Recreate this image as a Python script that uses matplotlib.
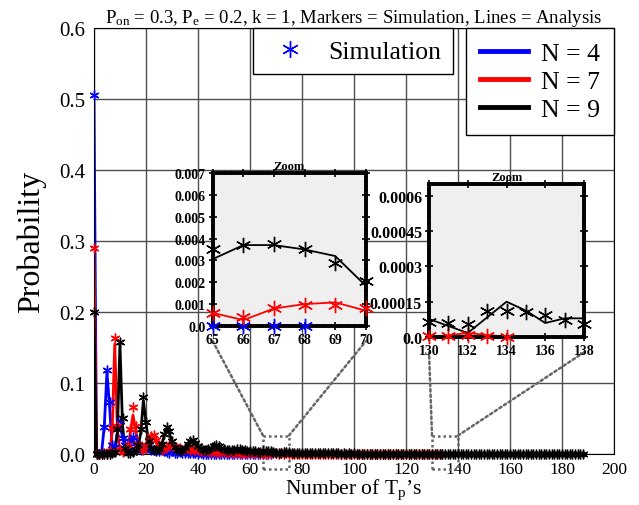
import matplotlib
matplotlib.use("Agg")
import numpy as np
import matplotlib.pyplot as plt
from matplotlib.lines import Line2D
from matplotlib.patches import Rectangle, ConnectionPatch
from matplotlib.ticker import AutoMinorLocator

plt.rcParams['font.family'] = ['Liberation Serif', 'DejaVu Serif']
plt.rcParams['mathtext.fontset'] = 'custom'
plt.rcParams['mathtext.rm'] = 'Liberation Serif'
plt.rcParams['mathtext.it'] = 'Liberation Serif:italic'

# analysis (lines) and simulation (markers), index = number of Tp's
ana_n4 = [0.505, 0.0, 0.0, 0.004, 0.040, 0.115, 0.068, 0.010, 0.007, 0.030,
          0.040, 0.025, 0.010, 0.008, 0.015, 0.019, 0.014, 0.008, 0.006, 0.007,
          0.009, 0.009, 0.007, 0.005, 0.004, 0.005, 0.005, 0.004, 0.003, 0.003,
          0.003, 0.003, 0.002, 0.002, 0.002, 0.0015, 0.0015, 0.0012, 0.001, 0.001,
          0.001, 0.0008, 0.0007, 0.0006, 0.0005, 0.0005, 0.0004, 0.0003, 0.0003, 0.0002,
          0.0002, 0.0002, 0.0001, 0.0001, 0.0001, 0.0001, 0.0001, 0.0, 0.0, 0.0,
          0.0, 0.0, 0.0, 0.0, 0.0, 0.0, 0.0, 0.0, 0.0]
sim_n4 = [0.505, 0.0, 0.0, 0.003, 0.038, 0.118, 0.073, 0.012, 0.010, 0.036,
          0.047, 0.022, 0.012, 0.010, 0.018, 0.024, 0.015, 0.008, 0.005, 0.008,
          0.010, 0.008, 0.006, 0.006, 0.004, 0.004, 0.006, 0.004, 0.003, 0.002,
          0.004, 0.002, 0.002, 0.003, 0.001, 0.002, 0.001, 0.001, 0.0015, 0.001,
          0.0005, 0.001, 0.0005, 0.0005, 0.0005, 0.0003, 0.0005, 0.0003, 0.0002, 0.0002,
          0.0001, 0.0002, 0.0001, 0.0001, 0.0001, 0.0, 0.0001, 0.0, 0.0, 0.0,
          0.0, 0.0, 0.0, 0.0, 0.0, 0.0, 0.0, 0.0, 0.0]

ana_n7 = [0.288, 0.0, 0.0, 0.0, 0.0, 0.0, 0.002, 0.030, 0.155, 0.035,
          0.004, 0.002, 0.003, 0.010, 0.030, 0.055, 0.035, 0.012, 0.006, 0.006,
          0.010, 0.017, 0.022, 0.024, 0.018, 0.011, 0.007, 0.007, 0.009, 0.011,
          0.012, 0.011, 0.009, 0.007, 0.006, 0.006, 0.007, 0.007, 0.0068, 0.006,
          0.005, 0.0045, 0.0042, 0.0042, 0.0042, 0.004, 0.0036, 0.0032, 0.003, 0.0028,
          0.0027, 0.0026, 0.0024, 0.0022, 0.002, 0.0018, 0.0017, 0.0016, 0.0015, 0.0013,
          0.0012, 0.0011, 0.0009, 0.0008, 0.0007, 0.0006, 0.00027, 0.0008, 0.0010, 0.00108,
          0.0007, 0.0006, 0.0006, 0.0007, 0.0007, 0.0006, 0.0005, 0.0005, 0.0005, 0.0005,
          0.0004, 0.0004, 0.0004, 0.0004, 0.0003, 0.0003, 0.0003, 0.0003, 0.0003, 0.00025,
          0.00025, 0.0002, 0.0002, 0.0002, 0.0002, 0.00018, 0.00016, 0.00015, 0.00015, 0.00014,
          0.00012, 0.00011, 0.0001, 0.0001, 0.00009, 0.00009, 0.00008, 0.00007, 0.00007, 0.00006,
          0.00006, 0.00005, 0.00005, 0.00004, 0.00004, 0.00004, 0.00003, 0.00003, 0.00003, 0.00002,
          0.00002, 0.00002, 0.00002, 0.00002, 0.00001, 0.00001, 0.00001, 0.00001, 0.00001, 0.00001,
          0.0, 0.000007, 0.000017, 0.000008, 0.000002]
sim_n7 = [0.290, 0.0, 0.0, 0.0, 0.001, 0.0, 0.004, 0.036, 0.164, 0.040,
          0.006, 0.003, 0.005, 0.012, 0.035, 0.066, 0.040, 0.014, 0.008, 0.005,
          0.012, 0.020, 0.025, 0.027, 0.020, 0.013, 0.006, 0.008, 0.010, 0.012,
          0.013, 0.010, 0.008, 0.008, 0.005, 0.007, 0.008, 0.006, 0.007, 0.005,
          0.0055, 0.004, 0.0045, 0.004, 0.0045, 0.0035, 0.004, 0.003, 0.0032, 0.0025,
          0.003, 0.0024, 0.0025, 0.002, 0.0022, 0.0017, 0.0019, 0.0015, 0.0016, 0.0012,
          0.0013, 0.001, 0.001, 0.0008, 0.0008, 0.0006, 0.00043, 0.0008, 0.00098, 0.00098,
          0.00082, 0.0006, 0.0007, 0.0006, 0.0008, 0.0005, 0.0006, 0.0004, 0.0005, 0.0004,
          0.0005, 0.0003, 0.0004, 0.0003, 0.0004, 0.0002, 0.0003, 0.0003, 0.0002, 0.0003,
          0.0002, 0.0002, 0.00025, 0.00015, 0.0002, 0.00015, 0.00018, 0.00012, 0.00015, 0.0001,
          0.00012, 0.0001, 0.0001, 0.00008, 0.0001, 0.00007, 0.00008, 0.00006, 0.00007, 0.00005,
          0.00006, 0.00004, 0.00005, 0.00004, 0.00003, 0.00004, 0.00002, 0.00003, 0.00002, 0.00002,
          0.00002, 0.00001, 0.00002, 0.00001, 0.00001, 0.00001, 0.000005, 0.00001, 0.000005, 0.000005,
          0.000005, 0.000005, 0.000008, 0.000003, 0.000002]

ana_n9 = [0.198, 0.0, 0.0, 0.0, 0.0, 0.0, 0.0, 0.0, 0.002, 0.030,
          0.155, 0.040, 0.005, 0.001, 0.001, 0.002, 0.004, 0.010, 0.030, 0.075,
          0.045, 0.015, 0.006, 0.004, 0.004, 0.006, 0.012, 0.025, 0.036, 0.030,
          0.016, 0.008, 0.005, 0.004, 0.005, 0.008, 0.013, 0.018, 0.019, 0.015,
          0.010, 0.007, 0.005, 0.005, 0.006, 0.008, 0.010, 0.011, 0.010, 0.008,
          0.006, 0.005, 0.0045, 0.0048, 0.0055, 0.006, 0.0063, 0.006, 0.0053, 0.0046,
          0.004, 0.0036, 0.0034, 0.0033, 0.0032, 0.00306, 0.0037, 0.0037, 0.0035, 0.0032,
          0.00184, 0.0017, 0.0020, 0.0023, 0.0024, 0.0023, 0.0020, 0.0017, 0.0015, 0.0014,
          0.0014, 0.0015, 0.0016, 0.0016, 0.0015, 0.0013, 0.0011, 0.0010, 0.0009, 0.0009,
          0.0010, 0.0010, 0.0010, 0.0009, 0.0008, 0.0007, 0.0006, 0.0006, 0.0006, 0.0006,
          0.0006, 0.0006, 0.0005, 0.0005, 0.0004, 0.0004, 0.0004, 0.0004, 0.0004, 0.0004,
          0.0003, 0.0003, 0.0003, 0.00025, 0.00025, 0.00025, 0.00025, 0.00022, 0.0002, 0.00018,
          0.00016, 0.00015, 0.00015, 0.00015, 0.00014, 0.00012, 0.0001, 0.00009, 0.00009, 0.00008,
          0.0000765, 0.000047, 0.000017, 0.0000836, 0.00015, 0.000112, 0.0000595, 0.0000793, 0.0000793, 0.00007,
          0.00007, 0.00006, 0.00006, 0.00005, 0.00005, 0.00005, 0.00004, 0.00004, 0.00004, 0.00004,
          0.00003, 0.00003, 0.00003, 0.00003, 0.00003, 0.00002, 0.00002, 0.00002, 0.00002, 0.00002,
          0.00002, 0.00002, 0.00001, 0.00001, 0.00001, 0.00001, 0.00001, 0.00001, 0.00001, 0.00001,
          0.00001, 0.00001, 0.00001, 0.000005, 0.000005, 0.000005, 0.000005, 0.000005, 0.000005, 0.000005,
          0.000005, 0.000005, 0.000005, 0.0, 0.0, 0.0, 0.0, 0.0, 0.0]
sim_n9 = [0.200, 0.0, 0.0, 0.0, 0.0, 0.0, 0.0, 0.001, 0.003, 0.035,
          0.158, 0.050, 0.008, 0.002, 0.002, 0.003, 0.005, 0.012, 0.035, 0.080,
          0.045, 0.018, 0.008, 0.005, 0.005, 0.007, 0.014, 0.028, 0.038, 0.032,
          0.018, 0.010, 0.006, 0.005, 0.006, 0.009, 0.014, 0.019, 0.020, 0.016,
          0.011, 0.008, 0.006, 0.006, 0.007, 0.009, 0.011, 0.013, 0.011, 0.009,
          0.007, 0.006, 0.005, 0.005, 0.006, 0.0065, 0.007, 0.0062, 0.0055, 0.0048,
          0.0042, 0.0038, 0.0036, 0.0035, 0.0034, 0.00352, 0.0037, 0.00375, 0.00352, 0.0029,
          0.00207, 0.0019, 0.0021, 0.0024, 0.0025, 0.0022, 0.0021, 0.0016, 0.0016, 0.0013,
          0.0015, 0.0014, 0.0017, 0.0015, 0.0016, 0.0012, 0.0012, 0.0009, 0.001, 0.0008,
          0.0011, 0.0009, 0.0011, 0.0008, 0.0009, 0.0006, 0.0007, 0.0005, 0.0007, 0.0005,
          0.0007, 0.0005, 0.0006, 0.0004, 0.0005, 0.0003, 0.0005, 0.0003, 0.0004, 0.0003,
          0.0004, 0.0002, 0.0003, 0.0002, 0.0003, 0.0002, 0.0003, 0.0002, 0.00025, 0.00015,
          0.0002, 0.00012, 0.00018, 0.00012, 0.00015, 0.0001, 0.00012, 0.00008, 0.0001, 0.00007,
          0.0000624, 0.0000595, 0.000055, 0.000112, 0.000112, 0.000108, 0.0000935, 0.000072, 0.000055, 0.00006,
          0.00007, 0.00005, 0.00006, 0.00004, 0.00005, 0.00004, 0.00005, 0.00003, 0.00004, 0.00003,
          0.00004, 0.00002, 0.00003, 0.00002, 0.00003, 0.00002, 0.00002, 0.00001, 0.00002, 0.00001,
          0.00002, 0.00001, 0.00001, 0.00001, 0.00001, 0.000005, 0.00001, 0.000005, 0.00001, 0.000005,
          0.000005, 0.000005, 0.000005, 0.0, 0.000005, 0.0, 0.000005, 0.0, 0.0, 0.000005,
          0.0, 0.0, 0.000005, 0.0, 0.0, 0.0, 0.0, 0.0, 0.0]

series = [('N = 4', 'b', ana_n4, sim_n4),
          ('N = 7', 'r', ana_n7, sim_n7),
          ('N = 9', 'k', ana_n9, sim_n9)]

star = (6, 2, 0)


def draw(ax, lw, ms, xr):
    for name, c, ana, sim in series:
        ax.plot(np.arange(len(ana)), ana, color=c, lw=lw)
    for name, c, ana, sim in series:
        x = np.arange(len(sim))
        y = np.array(sim)
        # markers on the border are drawn whole
        m = (x >= xr[0]) & (x <= xr[1])
        ax.plot(x[m], y[m], ls='none', marker=star, color=c, ms=ms,
                mew=1.0, clip_on=False, zorder=5)


fig = plt.figure(figsize=(6.39, 5.06), dpi=100)
ax = fig.add_axes([0.147, 0.1008, 0.814, 0.8419])
draw(ax, 2.0, 7, (0, 200))
ax.set_xlim(0, 200)
ax.set_ylim(0, 0.6)
ax.set_xticks(np.arange(0, 201, 20))
ax.set_yticks(np.arange(0, 0.61, 0.1))
ax.set_yticklabels(['%.1f' % v for v in np.arange(0, 0.61, 0.1)])
ax.tick_params(axis='x', labelsize=12.5, length=0, pad=5)
ax.tick_params(axis='y', labelsize=15, length=0, pad=6)
ax.grid(True, color='0.3', lw=1.0)
ax.set_axisbelow(True)
ax.set_xlabel('Number of T$_\\mathrm{p}$\u2019s', fontsize=15.5, labelpad=0)
ax.set_ylabel('Probability', fontsize=23, labelpad=10)
ax.set_title('P$_\\mathrm{on}$ = 0.3, P$_\\mathrm{e}$ = 0.2, k = 1, '
             'Markers = Simulation, Lines = Analysis', fontsize=13.5, pad=4)

# legends
leg1 = ax.legend([Line2D([], [], ls='none', marker=star, color='b', ms=12, mew=1)],
                 ['Simulation'], loc='upper left', bbox_to_anchor=(0.3058, 1.0),
                 borderaxespad=0, fontsize=18.5, fancybox=False, edgecolor='k',
                 framealpha=1, handlelength=2.0, handletextpad=0.48, borderpad=0.45)
leg1.get_frame().set_linewidth(1.0)
leg1.set_zorder(10)
ax.add_artist(leg1)
leg2 = ax.legend([Line2D([], [], color=c, lw=3.5) for _, c, _, _ in series],
                 [s[0] for s in series], loc='upper right', bbox_to_anchor=(1.0, 1.0),
                 borderaxespad=0, fontsize=18.5, fancybox=False, edgecolor='k',
                 framealpha=1, handlelength=1.85, handletextpad=0.52, borderpad=0.55,
                 labelspacing=0.2)
leg2.get_frame().set_linewidth(1.0)
leg2.set_zorder(10)

# insets
ins1 = fig.add_axes([0.333, 0.3538, 0.2394, 0.3024])
ins2 = fig.add_axes([0.6714, 0.332, 0.2426, 0.3024])
draw(ins1, 1.3, 11, (65, 70))
draw(ins2, 1.3, 11, (130, 138))
ins1.set_xlim(65, 70)
ins1.set_ylim(0, 0.007)
ins1.set_xticks(range(65, 71), [str(v) for v in range(65, 71)],
                fontweight='bold', fontsize=10)
ins1.set_yticks(np.arange(0, 0.0071, 0.001),
                ['0.0'] + ['%.3f' % v for v in np.arange(0.001, 0.0071, 0.001)],
                fontweight='bold', fontsize=10)
ins2.set_xlim(130, 138)
ins2.set_ylim(0, 0.00065)
ins2.set_xticks(range(130, 139, 2), [str(v) for v in range(130, 139, 2)],
                fontweight='bold', fontsize=10)
ins2.set_yticks([0, 0.00015, 0.0003, 0.00045, 0.0006],
                ['0.0', '0.00015', '0.0003', '0.00045', '0.0006'],
                fontweight='bold', fontsize=11.5)
for ins in (ins1, ins2):
    ins.set_facecolor('#efefef')
    for sp in ins.spines.values():
        sp.set_linewidth(2.8)
    ins.xaxis.set_minor_locator(AutoMinorLocator(5))
    ins.yaxis.set_minor_locator(AutoMinorLocator(5))
    ins.tick_params(which='both', direction='inout', top=True, right=True,
                    width=1.2, pad=2)
    ins.tick_params(which='major', length=6)
    ins.tick_params(which='minor', length=3)
    ins.set_title('Zoom', fontsize=9, fontweight='bold', pad=3)

# zoom markers on the main axes
dot = dict(ls=(0, (1, 1.2)), lw=1.8, color='0.4')
for x0, x1, ins in ((65, 75, ins1), (130, 140, ins2)):
    ax.add_patch(Rectangle((x0, -0.021), x1 - x0, 0.047, fill=False,
                           clip_on=False, **dot))
    for xa, xb in ((x0, 0), (x1, 1)):
        con = ConnectionPatch(xyA=(xa, 0.026), coordsA=ax.transData,
                              xyB=(xb, -0.1), coordsB=ins.transAxes, **dot)
        con.set_clip_on(False)
        ax.add_artist(con)

fig.savefig('out.png', dpi=100)
